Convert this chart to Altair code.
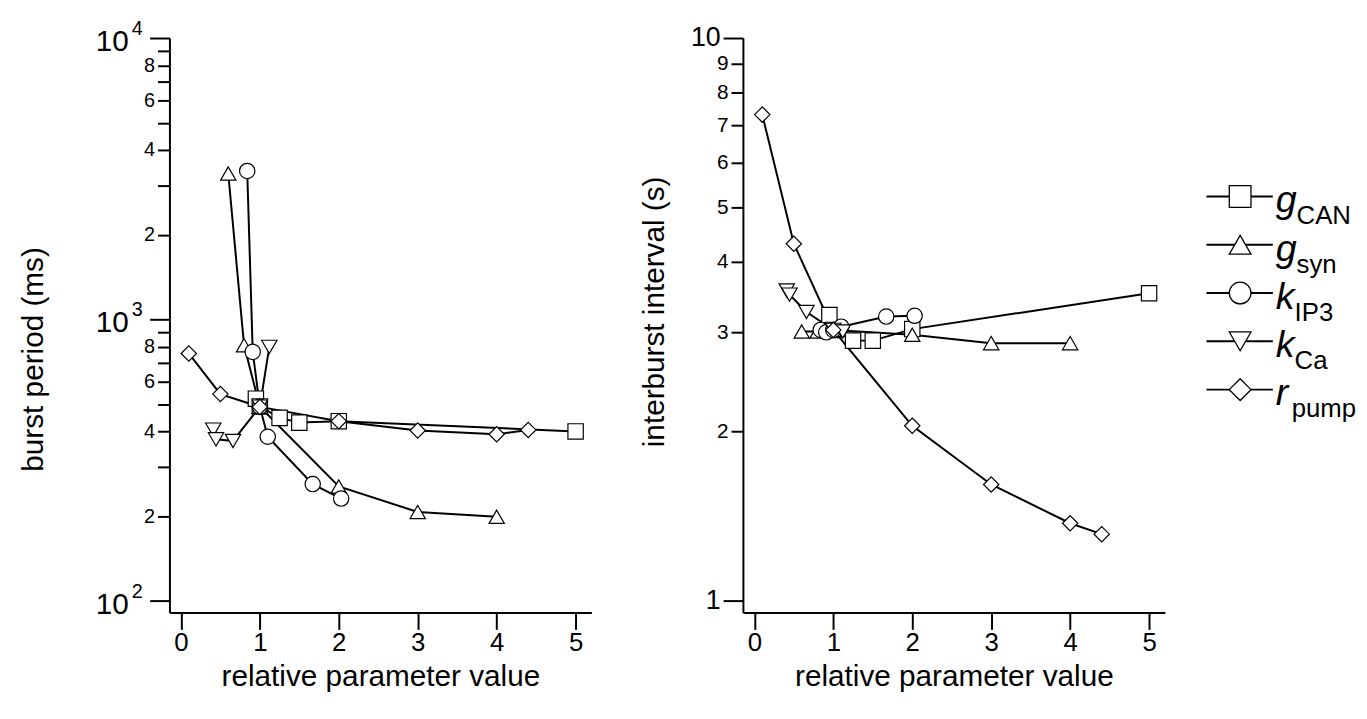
import altair as alt
import pandas as pd

FONT = "Liberation Sans"

series_names = ["g_CAN", "g_syn", "k_IP3", "k_Ca", "r_pump"]
marker_shapes = ["square", "triangle-up", "circle", "triangle-down", "diamond"]
legend_letters = ["g", "g", "k", "k", "r"]
legend_subs = ["CAN", "syn", "IP3", "Ca", "pump"]

# relative parameter values (shared by both panels)
gcan_x = [0.95, 1.0, 1.25, 1.5, 2.0, 5.0]
gsyn_x = [0.6, 0.8, 1.0, 2.0, 3.0, 4.0]
kip3_x = [0.84, 0.91, 1.0, 1.1, 1.67, 2.03]
kca_x = [0.41, 0.445, 0.66, 1.0, 1.12]
rpump_x = [0.1, 0.5, 1.0, 2.0, 3.0, 4.0, 4.4]

# left panel: burst period (ms)
bp_gcan = [523, 491, 447, 430, 435, 400]
bp_gsyn = [3300, 810, 490, 255, 207, 199]
bp_kip3 = [3370, 767, 490, 383, 260, 231]
bp_kca = [406, 375, 370, 490, 799]
bp_rpump = [757, 543, 489, 435, 403, 391, 405]

# right panel: interburst interval (s)
ibi_gcan = [3.22, 3.03, 2.90, 2.90, 3.04, 3.52]
ibi_gsyn = [3.01, 3.01, 3.03, 2.97, 2.87, 2.87]
ibi_kip3 = [3.03, 3.00, 3.03, 3.07, 3.20, 3.21]
ibi_kca = [3.56, 3.50, 3.26, 3.03, 3.01]
ibi_rpump = [7.31, 4.31, 3.03, 2.047, 1.61, 1.374, 1.314]

# axis ticks
left_ticks = [100, 200, 300, 400, 500, 600, 700, 800, 900,
              1000, 2000, 3000, 4000, 5000, 6000, 7000, 8000, 9000, 10000]
left_decades = [100, 1000, 10000]
left_decade_exp = ["2", "3", "4"]
right_ticks = [1, 2, 3, 4, 5, 6, 7, 8, 9, 10]
x_ticks = [0, 1, 2, 3, 4, 5]

xs_all = [gcan_x, gsyn_x, kip3_x, kca_x, rpump_x]


def make_df(ys_all):
    rows = []
    for name, xs, ys in zip(series_names, xs_all, ys_all):
        for x, y in zip(xs, ys):
            rows.append({"series": name, "x": x, "y": y})
    return pd.DataFrame(rows)


df_left = make_df([bp_gcan, bp_gsyn, bp_kip3, bp_kca, bp_rpump])
df_right = make_df([ibi_gcan, ibi_gsyn, ibi_kip3, ibi_kca, ibi_rpump])

W, H = 426, 580
xscale = alt.Scale(domain=[-0.145, 5.2], nice=False, zero=False)
xaxis = alt.Axis(values=x_ticks, format="d", title="relative parameter value",
                 tickSize=17, labelFontSize=26, labelPadding=0, labelFlush=False,
                 titleFontSize=30, titleY=74, titleBaseline="alphabetic")

shape_scale = alt.Scale(domain=series_names, range=marker_shapes)


def panel(df, yscale, yaxis, extra=None):
    base = alt.Chart(df).encode(
        x=alt.X("x:Q", scale=xscale, axis=xaxis),
        y=alt.Y("y:Q", scale=yscale, axis=yaxis),
    )
    lines = base.mark_line(color="black", strokeWidth=2).encode(detail="series:N")
    pts = base.mark_point(filled=True, color="white", stroke="black",
                          strokeWidth=1.2, size=240, opacity=1).encode(
        shape=alt.Shape("series:N", scale=shape_scale, legend=None))
    return alt.layer(lines, pts, *(extra or []))


# ---- left panel ----
left_yscale = alt.Scale(type="log", domain=[90.95, 10000], nice=False)
left_yaxis = alt.Axis(
    values=left_ticks, title="burst period (ms)",
    labelExpr="indexof([200,400,600,800,2000,4000,6000,8000], datum.value) >= 0 ? substring(toString(datum.value),0,1) : ''",
    labelFontSize=20, labelPadding=3, labelOverlap=False,
    tickSize={"condition": {"test": "datum.value == 100 || datum.value == 1000 || datum.value == 10000", "value": 20}, "value": 12},
    titleFontSize=30, titleX=-122, titleY=324, titleBaseline="bottom")

dec_df = pd.DataFrame({"y": left_decades, "exp": left_decade_exp, "base": ["10"] * 3})
dec_base = alt.Chart(dec_df).mark_text(align="right", baseline="middle", fontSize=30,
                                       font=FONT, dy=4, color="black").encode(
    x=alt.value(-41), y=alt.Y("y:Q", scale=left_yscale, axis=left_yaxis), text="base:N")
dec_exp = alt.Chart(dec_df).mark_text(align="left", baseline="middle", fontSize=20,
                                      font=FONT, dy=-9, color="black").encode(
    x=alt.value(-38), y=alt.Y("y:Q", scale=left_yscale, axis=left_yaxis), text="exp:N")

left = panel(df_left, left_yscale, left_yaxis, [dec_base, dec_exp]).properties(width=W, height=H)

# ---- right panel ----
right_yscale = alt.Scale(type="log", domain=[0.9537, 10], nice=False)
big = "datum.value == 1 || datum.value == 10"
right_yaxis = alt.Axis(
    values=right_ticks, format="d", title="interburst interval (s)",
    labelOverlap=False,
    labelFontSize={"condition": {"test": big, "value": 27}, "value": 21},
    labelPadding=3,
    tickSize={"condition": {"test": big, "value": 20}, "value": 12},
    titleFontSize=30, titleX=-74, titleY=276, titleBaseline="bottom")

# ---- legend (drawn beside the right panel, own row scale) ----
leg_df = pd.DataFrame({"series": series_names, "letter": legend_letters, "sub": legend_subs})
ly = alt.Y("series:N", scale=alt.Scale(type="point", domain=series_names,
                                         range=[160, 355], padding=0), axis=None)
LX = 468
leg_rule = alt.Chart(leg_df).mark_rule(color="black", strokeWidth=2).encode(
    y=ly, x=alt.value(LX), x2=alt.value(LX + 67))
leg_pts = alt.Chart(leg_df).mark_point(filled=True, color="white", stroke="black",
                                       strokeWidth=1.3, size=480, opacity=1).encode(
    y=ly, x=alt.value(LX + 34), shape=alt.Shape("series:N", scale=shape_scale, legend=None))
leg_main = alt.Chart(leg_df).mark_text(align="left", baseline="alphabetic", fontSize=38,
                                       fontStyle="italic", font=FONT, dy=16, color="black").encode(
    y=ly, x=alt.value(LX + 70), text="letter:N")
sub_offsets = {"g": 91, "k": 89, "r": 86}
leg_subs = [
    alt.Chart(leg_df).transform_filter(alt.datum.letter == letter).mark_text(
        align="left", baseline="alphabetic", fontSize=26, font=FONT, dy=28, color="black").encode(
        y=ly, x=alt.value(LX + xoff), text="sub:N")
    for letter, xoff in sub_offsets.items()
]
legend_layer = alt.layer(leg_rule, leg_pts, leg_main, *leg_subs)

right = alt.layer(panel(df_right, right_yscale, right_yaxis), legend_layer).resolve_scale(
    y="independent").properties(width=W, height=H)

chart = alt.hconcat(left, right, spacing=153, bounds="flush").properties(
    padding={"left": 11, "top": 8, "right": 2, "bottom": 0}
).configure_view(stroke=None).configure_axis(
    domainColor="black", domainWidth=2, tickColor="black", tickWidth=2,
    labelColor="black", titleColor="black", labelFont=FONT, titleFont=FONT,
    titleFontWeight="normal", grid=False
)

chart.save("out.html", embed_options={"renderer": "svg", "actions": False})
